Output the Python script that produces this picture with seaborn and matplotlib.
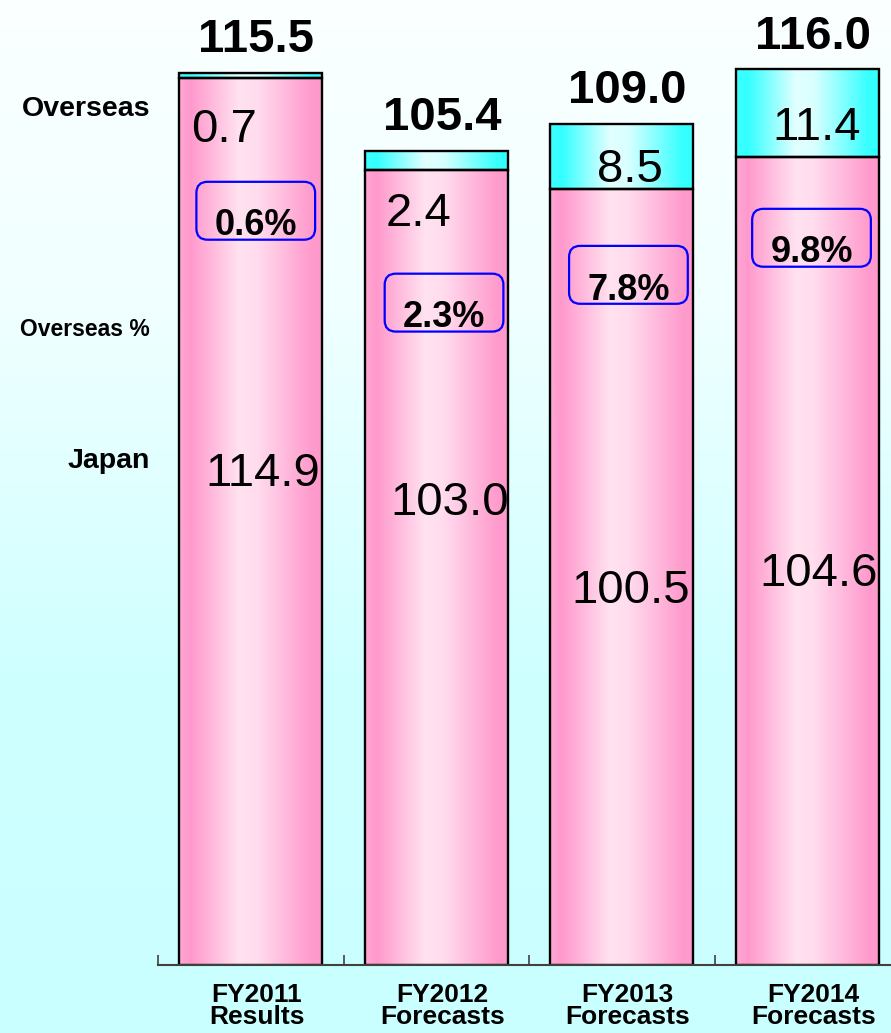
import numpy as np
import pandas as pd
import matplotlib
matplotlib.use("Agg")
import matplotlib.pyplot as plt
import seaborn as sns
from matplotlib.colors import LinearSegmentedColormap
from matplotlib.patches import FancyBboxPatch
from matplotlib.transforms import ScaledTranslation

# Sales volume by region (Japan / Overseas) and overseas share
categories = ["FY2011\nResults", "FY2012\nForecasts", "FY2013\nForecasts", "FY2014\nForecasts"]
japan = [114.9, 103.0, 100.5, 104.6]
overseas = [0.7, 2.4, 8.5, 11.4]
totals = [115.5, 105.4, 109.0, 116.0]
overseas_pct = [0.6, 2.3, 7.8, 9.8]

# label placement (x offset from bar centre, y baseline in data units)
overseas_lbl_dx = [-0.144, -0.093, 0.044, 0.053]
overseas_lbl_y = [106.6, 95.7, 101.4, 106.9]
japan_lbl_dx = [0.066, 0.075, 0.050, 0.064]
japan_lbl_y = [62.0, 58.3, 46.9, 49.1]
pct_box_dx = [0.027, 0.042, 0.036, 0.023]
pct_box_y = [97.7, 85.8, 89.4, 94.2]

sns.set_theme(style="white")
plt.rcParams["font.family"] = ["Liberation Sans", "DejaVu Sans"]
plt.rcParams["text.color"] = "black"
plt.rcParams["xtick.color"] = "black"

W, H = 891, 1033
fig = plt.figure(figsize=(W / 100, H / 100), dpi=100)

# vertical background wash: near white at the top, light cyan lower down
bg = fig.add_axes([0, 0, 1, 1], zorder=-10)
bg_cmap = LinearSegmentedColormap.from_list(
    "bg", [(0, "#fbffff"), (0.3, "#f0ffff"), (0.65, "#cfffff"), (1, "#caffff")])
bg.imshow(np.linspace(0, 1, 256).reshape(-1, 1), aspect="auto", cmap=bg_cmap,
          extent=[0, 1, 0, 1], origin="upper")
bg.axis("off")

ax = fig.add_axes([158 / W, 68 / H, 733 / W, 965 / H])
ax.patch.set_alpha(0)

df = pd.DataFrame({"period": categories, "japan": japan, "overseas": overseas})
sns.barplot(data=df, x="period", y="japan", ax=ax, width=0.77, color="#ff99cc",
            edgecolor="black", linewidth=1.7, errorbar=None)
sns.barplot(data=df, x="period", y="overseas", bottom=df["japan"].to_numpy(), ax=ax,
            width=0.77, color="#33ffff", edgecolor="black", linewidth=1.7, errorbar=None)

pink = LinearSegmentedColormap.from_list(
    "pink", [(0, "#ffa8d4"), (0.08, "#ff99cc"), (0.42, "#ffe2f0"), (0.55, "#ffdcee"),
             (0.93, "#ff9bcd"), (1, "#ff99cc")])
cyan = LinearSegmentedColormap.from_list(
    "cyan", [(0, "#40ffff"), (0.08, "#33ffff"), (0.42, "#e2ffff"), (0.55, "#d8ffff"),
             (0.93, "#36ffff"), (1, "#33ffff")])


def gradient_fill(p, cmap):
    x0, y0 = p.get_x(), p.get_y()
    w, h = p.get_width(), p.get_height()
    im = ax.imshow(np.linspace(0, 1, 256).reshape(1, -1), cmap=cmap, aspect="auto",
                   extent=[x0, x0 + w, y0, y0 + h], zorder=p.get_zorder() - 0.05,
                   interpolation="bilinear")
    im.set_clip_path(p)
    p.set_facecolor("none")


n = len(categories)
for p in ax.patches[:n]:
    gradient_fill(p, pink)
for p in ax.patches[n:2 * n]:
    gradient_fill(p, cyan)

ax.set_xlim(-0.5, -0.5 + 733 / 185.5)
ax.set_ylim(0, 125)
ax.set_xlabel("")
ax.set_ylabel("")
ax.set_yticks([])

for side in ["left", "top", "right"]:
    ax.spines[side].set_visible(False)
ax.spines["bottom"].set_color("#404040")
ax.spines["bottom"].set_linewidth(1.5)

ax.set_xticks(range(n))
ax.set_xticklabels(categories, fontweight="bold", fontsize=19, linespacing=0.88)
ax.tick_params(axis="x", which="major", length=0, pad=13, colors="black")
ax.set_xticks([i - 0.5 for i in range(n)], minor=True)
ax.tick_params(axis="x", which="minor", bottom=True, direction="in", length=7,
               width=1.2, color="#404040")
shift = ScaledTranslation(6 / 100, 0, fig.dpi_scale_trans)
for lbl in ax.get_xticklabels():
    lbl.set_transform(lbl.get_transform() + shift)

for i in range(n):
    # total on top of the stack
    ax.annotate(f"{totals[i]:.1f}", (i, japan[i] + overseas[i]), xytext=(4, 15),
                textcoords="offset points", ha="center", va="baseline",
                fontsize=34, fontweight="bold", color="black")
    ax.text(i + overseas_lbl_dx[i], overseas_lbl_y[i], f"{overseas[i]:.1f}",
            ha="center", va="baseline", fontsize=34, color="black", zorder=5)
    ax.text(i + japan_lbl_dx[i], japan_lbl_y[i], f"{japan[i]:.1f}",
            ha="center", va="baseline", fontsize=34, color="black", zorder=5)
    # overseas share in a rounded frame
    bw, bh = 0.64, 7.5
    cx, cy = i + pct_box_dx[i], pct_box_y[i]
    box = FancyBboxPatch((cx - bw / 2, cy - bh / 2), bw, bh,
                         boxstyle="round,pad=0,rounding_size=0.06",
                         mutation_aspect=185.5 / 7.72,
                         fc="none", ec="#0000ff", lw=1.6, zorder=6)
    ax.add_patch(box)
    ax.text(cx, cy - 3.2, f"{overseas_pct[i]:.1f}%", ha="center", va="baseline",
            fontsize=26, fontweight="bold", color="black", zorder=7)

fig.text(150 / W, 1 - 109 / H, "Overseas", ha="right", va="center",
         fontsize=20.5, fontweight="bold", color="black")
fig.text(150 / W, 1 - 329 / H, "Overseas %", ha="right", va="center",
         fontsize=16.5, fontweight="bold", color="black")
fig.text(150 / W, 1 - 461 / H, "Japan", ha="right", va="center",
         fontsize=20.5, fontweight="bold", color="black")

fig.savefig("out.png", dpi=100)
